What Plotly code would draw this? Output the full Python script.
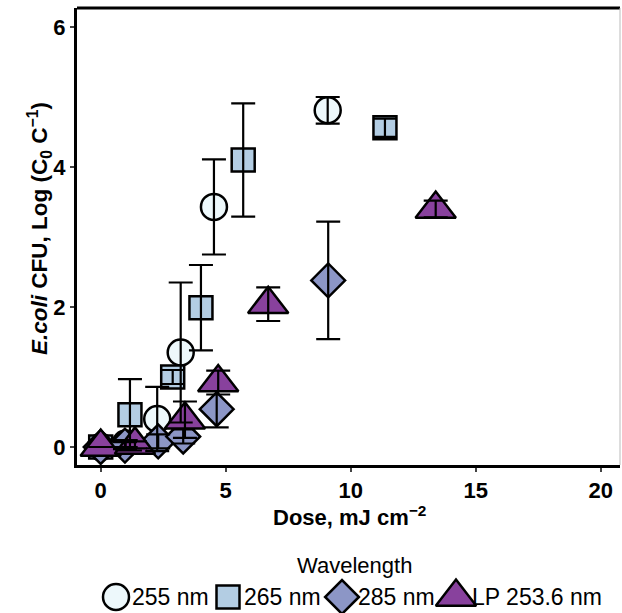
import plotly.graph_objects as go

# Log reduction of E. coli versus UV dose, per wavelength (mean and SD)
series_names = ["255 nm", "265 nm", "285 nm", "LP 253.6 nm"]

dose_255 = [0.0, 1.0, 2.26, 3.2, 4.53, 9.08]
logred_255 = [0.0, 0.05, 0.40, 1.35, 3.43, 4.81]
sd_255 = [0.0, 0.05, 0.46, 1.00, 0.68, 0.19]

dose_265 = [0.0, 1.17, 2.88, 4.01, 5.70, 11.37]
logred_265 = [0.0, 0.46, 1.00, 1.99, 4.10, 4.56]
sd_265 = [0.0, 0.51, 0.10, 0.61, 0.81, 0.13]

dose_285 = [0.0, 0.97, 2.30, 3.30, 4.64, 9.10]
logred_285 = [0.0, 0.02, 0.08, 0.15, 0.54, 2.38]
sd_285 = [0.0, 0.05, 0.10, 0.10, 0.26, 0.84]

dose_lp = [0.0, 1.37, 3.37, 4.70, 6.70, 13.40]
logred_lp = [0.0, 0.03, 0.39, 0.92, 2.04, 3.40]
sd_lp = [0.0, 0.05, 0.26, 0.17, 0.24, 0.12]

x_ticks = [0, 5, 10, 15, 20]
y_ticks = [0, 2, 4, 6]

# styling per series
fills = ["#EDF8FB", "#B3CDE3", "#8C96C6", "#88419D"]
symbols = ["circle", "square", "diamond", "triangle-up"]
sizes = [26, 23, 26, 35]

doses = [dose_255, dose_265, dose_285, dose_lp]
logreds = [logred_255, logred_265, logred_285, logred_lp]
sds = [sd_255, sd_265, sd_285, sd_lp]

FONT = "Liberation Sans, Arial, sans-serif"
W, H = 622, 613
ML, MR, MT, MB = 0, 1, 8, 5
PW, PH = W - ML - MR, H - MT - MB

fig = go.Figure()

# points
for name, x, y, fc, sym, sz in zip(series_names, doses, logreds, fills, symbols, sizes):
    fig.add_trace(go.Scatter(
        x=x, y=y, mode="markers", name=name, showlegend=False,
        marker=dict(symbol=sym, size=sz, color=fc,
                    line=dict(color="black", width=2.5)),
    ))

# error bars drawn above all points
for name, x, y, e in zip(series_names, doses, logreds, sds):
    fig.add_trace(go.Scatter(
        x=x, y=y, mode="markers", showlegend=False, hoverinfo="skip",
        marker=dict(size=1, opacity=0),
        error_y=dict(type="data", array=e, visible=True,
                     color="black", thickness=2.2, width=12),
    ))

# legend key glyphs on a helper axis measured in pixels
legend_key_x = [116, 228, 342, 456]
legend_row_y = 597
for name, fc, sym, sz, kx in zip(series_names, fills, symbols, sizes, legend_key_x):
    fig.add_trace(go.Scatter(
        x=[kx], y=[legend_row_y], xaxis="x2", yaxis="y2",
        mode="markers", showlegend=False, hoverinfo="skip", cliponaxis=False,
        marker=dict(symbol=sym, size=sz, color=fc,
                    line=dict(color="black", width=2.5)),
    ))
    fig.add_annotation(x=kx + 14, y=legend_row_y, xref="x2", yref="y2",
                       text=name, showarrow=False, xanchor="left",
                       yanchor="middle",
                       font=dict(family=FONT, size=23, color="black"))

fig.add_annotation(x=354, y=565, xref="x2", yref="y2", text="Wavelength",
                   showarrow=False, xanchor="center", yanchor="middle",
                   font=dict(family=FONT, size=22, color="black"))

# axis titles
fig.add_annotation(x=40 / PW, y=(H - MB - 229) / PH, xref="paper", yref="paper",
                   text="<b><i>E.coli</i> CFU, Log (C<sub>0</sub> C<sup>−1</sup>)</b>",
                   textangle=-90, showarrow=False, xanchor="center", yanchor="middle",
                   font=dict(family=FONT, size=22.5, color="black"))
fig.add_annotation(x=349 / PW, y=(H - MB - 516) / PH, xref="paper", yref="paper",
                   text="<b>Dose, mJ cm<sup>−2</sup></b>",
                   showarrow=False, xanchor="center", yanchor="middle",
                   font=dict(family=FONT, size=22, color="black"))

# top border of the panel
fig.add_shape(type="line", xref="x domain", yref="y domain",
              x0=0, x1=1, y0=1, y1=1, line=dict(color="black", width=3))
fig.add_shape(type="line", xref="x domain", yref="y domain",
              x0=1, x1=1, y0=0, y1=1, line=dict(color="#BBBBBB", width=1))

tick_font = dict(family=FONT, size=22, color="black", weight="bold")

fig.update_layout(
    width=W, height=H,
    margin=dict(l=ML, r=MR, t=MT, b=MB),
    paper_bgcolor="white", plot_bgcolor="white",
    showlegend=False,
    xaxis=dict(domain=[77 / PW, 620 / PW], range=[-0.948, 20.772],
               tickvals=x_ticks, ticktext=[str(v) for v in x_ticks],
               showgrid=False, zeroline=False,
               showline=True, linecolor="black", linewidth=3,
               ticks="outside", ticklen=4, tickwidth=1.5, tickcolor="#444444",
               tickfont=tick_font, anchor="y"),
    yaxis=dict(domain=[(H - MB - 465) / PH, 1], range=[-0.257, 6.271],
               tickvals=y_ticks, ticktext=[str(v) for v in y_ticks],
               showgrid=False, zeroline=False,
               showline=True, linecolor="black", linewidth=3,
               ticks="outside", ticklen=4, tickwidth=1.5, tickcolor="#444444",
               tickfont=tick_font, anchor="x"),
    xaxis2=dict(domain=[0, 1], range=[0, PW], visible=False, anchor="y2",
                fixedrange=True),
    yaxis2=dict(domain=[0, 120 / PH], range=[H - MB, H - MB - 120], visible=False,
                anchor="x2", fixedrange=True),
)

fig.write_html("out.html")
